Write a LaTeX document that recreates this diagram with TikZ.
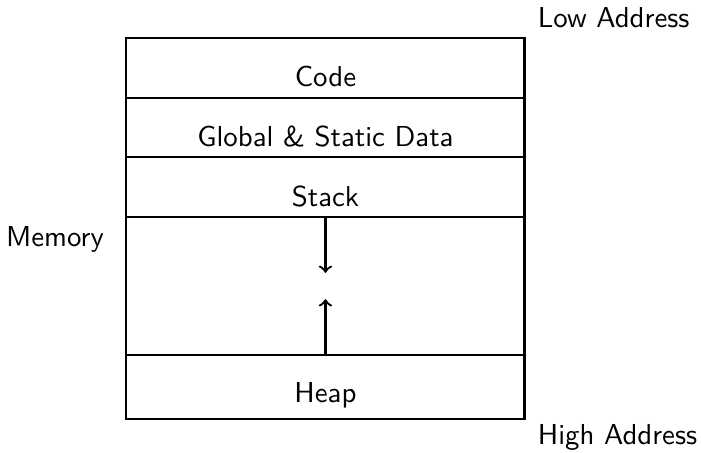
\documentclass[tikz,border=0pt]{standalone}
\usepackage{tikz}
\usetikzlibrary{positioning}

\begin{document}
\begin{tikzpicture}[node distance=0pt,>=to,font=\sffamily\fontsize{10.3}{12.4}\selectfont,thick,
memband/.style={draw,outer sep=0pt,inner sep=0pt,minimum width=5cm,minimum height=7.5mm}]
\useasboundingbox (0,0) rectangle (250.4pt,161.8pt);
\node[memband,label={[anchor=south west,xshift=1pt]north east:Low Address},
  label={[anchor=south]south:Code}] (code) at (116.25pt,137.6pt) {};
\node[memband,below=of code,label={[anchor=south]south:Global \& Static Data}] (data) {};
\node[memband,below=of data,label={[anchor=south]south:Stack}] (stack) {};
\node[memband,below=of stack,minimum height=17.3mm] (free) {};
\node[memband,below=of free,minimum height=8mm,label={[anchor=south]south:Heap},
  label={[anchor=north west,xshift=1pt,yshift=1.5pt]south east:High Address}] (heap) {};
\node[anchor=east] (mem) at (40.8pt,76.1pt) {Memory};
\coordinate (stackend) at ([yshift=-7mm]stack.south);
\coordinate (heapend) at ([yshift=7mm]heap.north);
\draw[->] (stack.south)--(stackend);
\draw[->] (heap.north)--(heapend);
\end{tikzpicture}
\end{document}
